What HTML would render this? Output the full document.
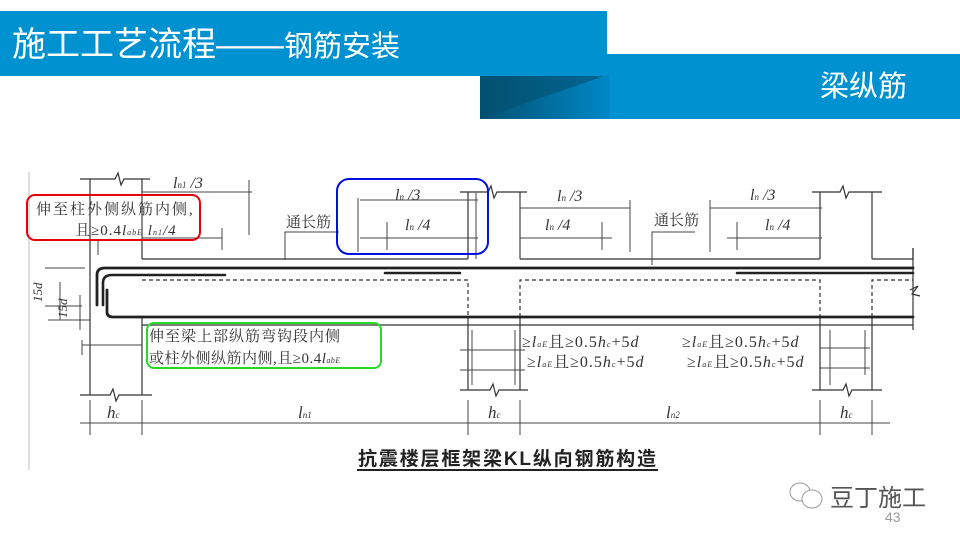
<!DOCTYPE html>
<html><head><meta charset="utf-8"><style>
html,body{margin:0;padding:0;background:#fff}
svg{display:block}
text{font-family:"Liberation Sans","Noto Sans CJK SC",sans-serif}
.cn{font-family:"Liberation Serif","Noto Serif CJK SC",serif;fill:#333}
.it{font-family:"Liberation Serif",serif;font-style:italic;fill:#333}
</style></head><body>
<svg width="960" height="540" viewBox="0 0 960 540" xmlns="http://www.w3.org/2000/svg">
<defs>
<linearGradient id="g" x1="0" x2="1" y1="0" y2="0">
<stop offset="0" stop-color="#03506f"/><stop offset="1" stop-color="#0088c8"/></linearGradient>
</defs>
<rect x="480" y="54" width="480" height="65" fill="#0091d0"/>
<rect x="480" y="75" width="130" height="44" fill="url(#g)"/>
<polygon points="480,119 607,75 480,75" fill="#03506f" opacity="0.6"/>
<rect x="0" y="11" width="607" height="65" fill="#0091d0"/>
<text x="12" y="56" font-size="34" fill="#fff">施工工艺流程——<tspan font-size="29">钢筋安装</tspan></text>
<text x="820" y="96" font-size="29" fill="#fff">梁纵筋</text>

<g stroke="#333" fill="none" stroke-width="1.2">
<line x1="29" y1="172" x2="29" y2="470" stroke="#ccc"/>
<line x1="90" y1="179" x2="90" y2="395"/><line x1="142" y1="179" x2="142" y2="259"/>
<line x1="142" y1="317" x2="142" y2="395"/>
<path d="M80 179 H115 l3 -6 l3 12 l3 -6 H150"/>
<path d="M80 395 H110 l3 -6 l3 12 l3 -6 H152"/>
<line x1="468" y1="192" x2="468" y2="259"/><line x1="520" y1="192" x2="520" y2="259"/>
<path d="M460 192 H488 l3 -6 l3 12 l3 -6 H527"/>
<line x1="468" y1="317" x2="468" y2="390"/><line x1="520" y1="317" x2="520" y2="390"/>
<path d="M460 390 H490 l3 -6 l3 12 l3 -6 H528"/>
<line x1="820" y1="192" x2="820" y2="259"/><line x1="872" y1="192" x2="872" y2="259"/>
<path d="M812 192 H840 l3 -6 l3 12 l3 -6 H882"/>
<line x1="820" y1="317" x2="820" y2="390"/><line x1="872" y1="317" x2="872" y2="390"/>
<path d="M812 390 H843 l3 -6 l3 12 l3 -6 H882"/>
<path d="M872 259 H913 V248"/><line x1="913" y1="248" x2="913" y2="330"/>
<path d="M910 290 l8 -4 l-6 8 l8 2"/>
<line x1="142" y1="259" x2="468" y2="259"/><line x1="520" y1="259" x2="820" y2="259"/>
<g stroke-dasharray="4,3"><path d="M142 280 H468 V317"/><path d="M520 317 V280 H820 V317"/><path d="M872 317 V280 H913"/></g>
<line x1="142" y1="325" x2="913" y2="325"/>
</g>
<g stroke="#222" fill="none" stroke-linecap="round">
<path d="M97 305 V275 q0 -7 8 -7 H913" stroke-width="2.8"/>
<path d="M103 305 V283 q0 -8 9 -8 H225" stroke-width="2.6"/>
<path d="M107 290 V312 q0 5 6 5 H913" stroke-width="2.8"/>
<path d="M385 273 H460" stroke-width="2.6"/><path d="M737 273 H913" stroke-width="2.6"/>
</g>
<g stroke="#444" fill="none" stroke-width="1">
<path d="M142 192 H252 M249 180 V235 M142 239 V192"/>
<path d="M142 238 H222 M222 228 V250 M98 240 V255"/>
<path d="M360 200 H478 M360 238 H478 M358 198 V252 M387 222 V250 M476 193 V259"/>
<path d="M520 208 H630 M520 238 H612 M630 200 V252 M602 222 V250 M520 198 V259"/>
<path d="M710 208 H822 M727 238 H822 M710 200 V252 M737 222 V250"/>
<path d="M285 260 V232 H339"/><path d="M652 265 V232 H695"/>
<path d="M45 268 H85 M45 306 H82 M60 282 V320 M48 320 H90 M80 295 V330"/>
<path d="M82 345 H142 M82 340 V355"/>
<path d="M460 350 H525 M460 370 H525 M472 330 V385 M515 330 V385"/>
<path d="M820 348 H870 M820 368 H870 M830 330 V385 M865 330 V375"/>
<path d="M80 423 H890 M90 400 V435 M142 400 V435 M468 400 V435 M520 400 V435 M820 400 V435 M872 400 V435"/>
</g>
<line x1="357" y1="470" x2="658" y2="470" stroke="#222" stroke-width="2"/>
<text class="it" x="173" y="188" font-size="16">l<tspan font-size="9">n1</tspan> /3</text>
<text class="it" x="395" y="200" font-size="16">l<tspan font-size="9">n</tspan> /3</text>
<text class="it" x="405" y="230" font-size="16">l<tspan font-size="9">n</tspan> /4</text>
<text class="it" x="557" y="201" font-size="16">l<tspan font-size="9">n</tspan> /3</text>
<text class="it" x="545" y="230" font-size="16">l<tspan font-size="9">n</tspan> /4</text>
<text class="it" x="750" y="200" font-size="16">l<tspan font-size="9">n</tspan> /3</text>
<text class="it" x="765" y="230" font-size="16">l<tspan font-size="9">n</tspan> /4</text>
<text class="cn" x="286" y="227" font-size="15">通长筋</text>
<text class="cn" x="654" y="225" font-size="15">通长筋</text>
<text class="cn" x="36" y="214" font-size="15" letter-spacing="2">伸至柱外侧纵筋内侧,</text>
<text class="cn" x="75" y="235" font-size="15" letter-spacing="1">且≥0.4<tspan class="it">l<tspan font-size="8">abE</tspan></tspan> <tspan class="it">l<tspan font-size="8">n1</tspan>/4</tspan></text>
<text class="cn" x="149" y="341" font-size="15" letter-spacing="1">伸至梁上部纵筋弯钩段内侧</text>
<text class="cn" x="149" y="363" font-size="15" letter-spacing="0.5">或柱外侧纵筋内侧,且≥0.4<tspan class="it">l<tspan font-size="8">abE</tspan></tspan></text>
<text class="cn" x="522" y="347" font-size="16" letter-spacing="1">≥<tspan class="it">l<tspan font-size="8">aE</tspan></tspan>且≥0.5<tspan class="it">h<tspan font-size="8">c</tspan></tspan>+5<tspan class="it">d</tspan></text>
<text class="cn" x="527" y="367" font-size="16" letter-spacing="1">≥<tspan class="it">l<tspan font-size="8">aE</tspan></tspan>且≥0.5<tspan class="it">h<tspan font-size="8">c</tspan></tspan>+5<tspan class="it">d</tspan></text>
<text class="cn" x="682" y="347" font-size="16" letter-spacing="1">≥<tspan class="it">l<tspan font-size="8">aE</tspan></tspan>且≥0.5<tspan class="it">h<tspan font-size="8">c</tspan></tspan>+5<tspan class="it">d</tspan></text>
<text class="cn" x="687" y="367" font-size="16" letter-spacing="1">≥<tspan class="it">l<tspan font-size="8">aE</tspan></tspan>且≥0.5<tspan class="it">h<tspan font-size="8">c</tspan></tspan>+5<tspan class="it">d</tspan></text>
<text class="it" x="42" y="302" font-size="13" transform="rotate(-90 42 302)">15d</text>
<text class="it" x="67" y="318" font-size="13" transform="rotate(-90 67 318)">15d</text>
<text class="it" x="107" y="418" font-size="17">h<tspan font-size="9">c</tspan></text>
<text class="it" x="298" y="418" font-size="17">l<tspan font-size="9">n1</tspan></text>
<text class="it" x="488" y="418" font-size="17">h<tspan font-size="9">c</tspan></text>
<text class="it" x="666" y="418" font-size="17">l<tspan font-size="9">n2</tspan></text>
<text class="it" x="840" y="418" font-size="17">h<tspan font-size="9">c</tspan></text>
<text x="358" y="465" font-size="19" font-weight="bold" fill="#222" textLength="298">抗震楼层框架梁KL纵向钢筋构造</text>
<rect x="27" y="195" width="173" height="45" rx="8" fill="none" stroke="#e8000b" stroke-width="2"/>
<rect x="337" y="179" width="151" height="75" rx="12" fill="none" stroke="#0010e0" stroke-width="2"/>
<rect x="147" y="323" width="234" height="45" rx="7" fill="none" stroke="#22dd22" stroke-width="2"/>
<g fill="#fff" stroke="#999" stroke-width="1">
<ellipse cx="800" cy="492" rx="10" ry="9"/><ellipse cx="812" cy="499" rx="10" ry="9"/>
</g>
<text x="830" y="506" font-size="24" fill="#555">豆丁施工</text>
<text x="885" y="522" font-size="14" fill="#999">43</text>
</svg>
</body></html>
